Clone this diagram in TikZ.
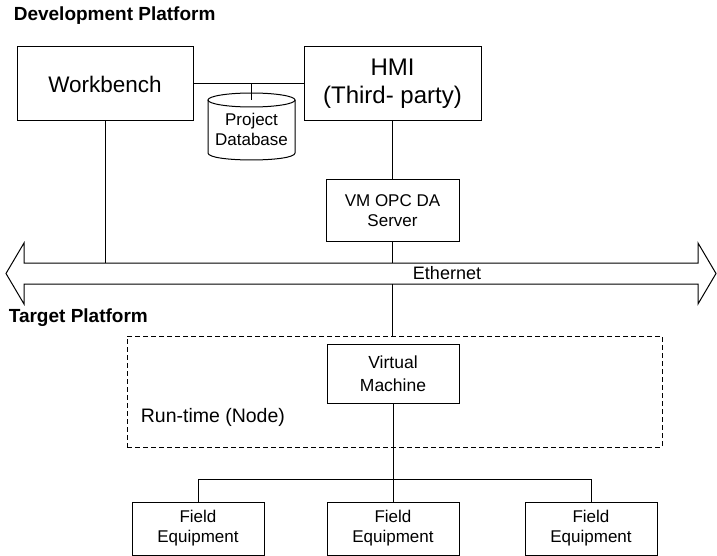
\documentclass[tikz,border=0pt]{standalone}
\usepackage{fontspec}
\setmainfont{Liberation Sans}
\tikzset{
  box/.style={draw, line width=1pt, align=center, inner sep=0pt},
  small/.style={font=\fontsize{17}{20}\selectfont},
  title/.style={font=\bfseries\fontsize{19}{22}\selectfont, anchor=west},
  runbox/.style={draw, dashed, dash pattern=on 5pt off 3pt, line width=1pt, inner sep=0pt}
}
\begin{document}
\begin{tikzpicture}[x=1pt, y=-1pt, line width=1pt]
  \useasboundingbox (0,0) rectangle (717,556);
  \node[title] (dev) at (10,16) {Development Platform};
  \node[box, font=\fontsize{22.5}{26}\selectfont, minimum width=176pt, minimum height=74pt] (wb) at (105,84) {Workbench};
  \node[box, font=\fontsize{24}{28}\selectfont, minimum width=177pt, minimum height=74pt] (hmi) at (392.5,84) {HMI\\(Third- party)};
  \draw[fill=white] (208,100) -- (208,153) .. controls (208,162.3) and (295,162.3) .. (295,153) -- (295,100);
  \draw (251.5,100) ellipse [x radius=43.5, y radius=7];
  \coordinate (dbtop) at (251.5,100);
  \node[small, align=center] (db) at (251.5,129) {Project\\Database};
  \node[box, small, minimum width=133pt, minimum height=61pt] (opc) at (392.5,210.5) {VM OPC DA\\Server};
  \draw (6,273.5) -- (24,243) -- (24,263) -- (698,263) -- (698,243) -- (716,273.5)
    -- (698,304) -- (698,284) -- (24,284) -- (24,304) -- cycle;
  \coordinate (ethN) at (361,263);
  \coordinate (ethS) at (361,284);
  \node[font=\fontsize{18}{20}\selectfont] (eth) at (447,273.5) {Ethernet};
  \node[title] (tgt) at (5,318) {Target Platform};
  \node[runbox, minimum width=535pt, minimum height=111pt] (rt) at (394.5,391.5) {};
  \node[font=\fontsize{19.5}{22}\selectfont, anchor=west] (rtl) at (137,417) {Run-time (Node)};
  \node[box, font=\fontsize{17.5}{23}\selectfont, minimum width=132pt, minimum height=59pt] (vm) at (393,373.5) {Virtual\\Machine};
  \node[box, small, minimum width=132pt, minimum height=53pt] (fe1) at (198,528.5) {Field\\Equipment};
  \node[box, small, minimum width=132pt, minimum height=53pt] (fe2) at (393,528.5) {Field\\Equipment};
  \node[box, small, minimum width=132pt, minimum height=53pt] (fe3) at (591,528.5) {Field\\Equipment};
  \coordinate (bus) at (393,479);
  \draw (wb.east) -- (hmi.west);
  \draw (dbtop) -- (dbtop |- wb.east);
  \draw (hmi.south) -- (opc.north);
  \draw (wb.south) -- (wb.south |- ethN);
  \draw (opc.south) -- (opc.south |- ethN);
  \draw (opc.south |- ethS) -- (opc.south |- rt.north);
  \draw (vm.south) -- (fe2.north);
  \draw (fe1.north) -- (fe1.north |- bus) -- (fe3.north |- bus) -- (fe3.north);
\end{tikzpicture}
\end{document}
